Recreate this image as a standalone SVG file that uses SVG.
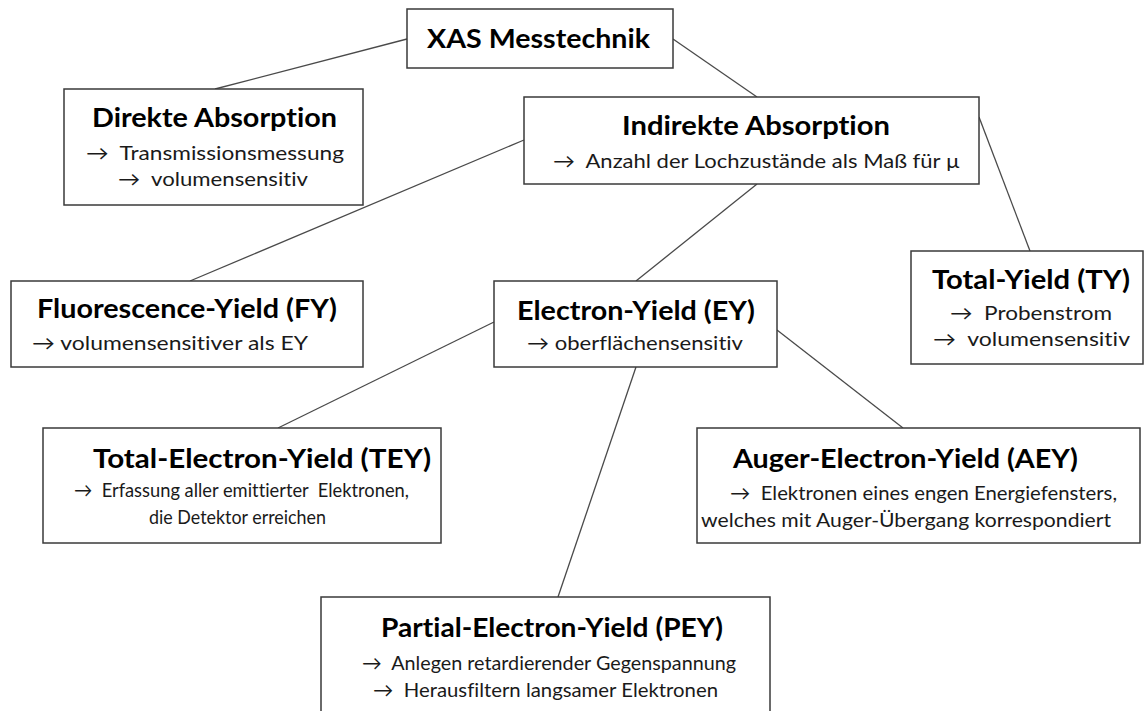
<svg xmlns="http://www.w3.org/2000/svg" width="1145" height="711" viewBox="0 0 1145 711">
<style>
.box{fill:#fff;stroke:#3a3a3a;stroke-width:1.5}
.edge{stroke:#4a4a4a;stroke-width:1.3;fill:none}
.t,.s{font-family:Lato,"Open Sans","Liberation Sans",sans-serif;text-anchor:middle;font-variant-ligatures:none;font-feature-settings:"liga" 0,"clig" 0,"dlig" 0,"calt" 0}
.t{font-weight:bold;font-size:26px;fill:#000}
.s{font-size:20px;fill:#1a1a1a;white-space:pre}
</style>
<rect width="1145" height="711" fill="#fff"/>
<g id="connectors">
<line class="edge" x1="407" y1="39" x2="215" y2="89"/>
<line class="edge" x1="673" y1="39" x2="757" y2="97"/>
<line class="edge" x1="524" y1="140" x2="190" y2="281"/>
<line class="edge" x1="757" y1="184" x2="636" y2="281"/>
<line class="edge" x1="979" y1="117" x2="1030" y2="251"/>
<line class="edge" x1="494" y1="322" x2="278" y2="428"/>
<line class="edge" x1="777" y1="330" x2="903" y2="428"/>
<line class="edge" x1="636" y1="367" x2="558" y2="597"/>
</g>
<g id="xas">
<rect class="box" x="407" y="9" width="266" height="59"/>
<text class="t" x="538.5" y="48" textLength="223" lengthAdjust="spacingAndGlyphs">XAS Messtechnik</text>
</g>
<g id="direkt">
<rect class="box" x="64" y="89" width="299" height="116"/>
<text class="t" x="214.5" y="127" textLength="245" lengthAdjust="spacingAndGlyphs">Direkte Absorption</text>
<text class="s" x="215" y="160" textLength="258" lengthAdjust="spacingAndGlyphs">→  Transmissionsmessung</text>
<text class="s" x="213" y="186" textLength="190" lengthAdjust="spacingAndGlyphs">→  volumensensitiv</text>
</g>
<g id="indirekt">
<rect class="box" x="524" y="97" width="455" height="87"/>
<text class="t" x="756" y="135" textLength="268" lengthAdjust="spacingAndGlyphs">Indirekte Absorption</text>
<text class="s" x="756.5" y="168" textLength="407" lengthAdjust="spacingAndGlyphs">→  Anzahl der Lochzustände als Maß für µ</text>
</g>
<g id="fy">
<rect class="box" x="11" y="281" width="352" height="86"/>
<text class="t" x="187" y="318" textLength="300" lengthAdjust="spacingAndGlyphs">Fluorescence-Yield (FY)</text>
<text class="s" x="170" y="350" textLength="276" lengthAdjust="spacingAndGlyphs">→ volumensensitiver als EY</text>
</g>
<g id="ey">
<rect class="box" x="494" y="281" width="283" height="86"/>
<text class="t" x="636" y="320" textLength="238" lengthAdjust="spacingAndGlyphs">Electron-Yield (EY)</text>
<text class="s" x="635" y="350" textLength="216" lengthAdjust="spacingAndGlyphs">→ oberflächensensitiv</text>
</g>
<g id="ty">
<rect class="box" x="911" y="251" width="232" height="113"/>
<text class="t" x="1031" y="289" textLength="198" lengthAdjust="spacingAndGlyphs">Total-Yield (TY)</text>
<text class="s" x="1031" y="320" textLength="162" lengthAdjust="spacingAndGlyphs">→  Probenstrom</text>
<text class="s" x="1031.5" y="346" textLength="197" lengthAdjust="spacingAndGlyphs">→  volumensensitiv</text>
</g>
<g id="tey">
<rect class="box" x="43" y="428" width="398" height="115"/>
<text class="t" x="262" y="468" textLength="338" lengthAdjust="spacingAndGlyphs">Total-Electron-Yield (TEY)</text>
<text class="s" x="241.5" y="497" textLength="335" lengthAdjust="spacingAndGlyphs">→  Erfassung aller emittierter  Elektronen,</text>
<text class="s" x="237.5" y="524" textLength="177" lengthAdjust="spacingAndGlyphs">die Detektor erreichen</text>
</g>
<g id="aey">
<rect class="box" x="697" y="428" width="443" height="115"/>
<text class="t" x="905.5" y="468" textLength="345" lengthAdjust="spacingAndGlyphs">Auger-Electron-Yield (AEY)</text>
<text class="s" x="923.5" y="500" textLength="387" lengthAdjust="spacingAndGlyphs">→  Elektronen eines engen Energiefensters,</text>
<text class="s" x="906" y="527" textLength="410" lengthAdjust="spacingAndGlyphs">welches mit Auger-Übergang korrespondiert</text>
</g>
<g id="pey">
<rect class="box" x="321" y="597" width="449" height="125"/>
<text class="t" x="552" y="637" textLength="342" lengthAdjust="spacingAndGlyphs">Partial-Electron-Yield (PEY)</text>
<text class="s" x="549" y="670" textLength="374" lengthAdjust="spacingAndGlyphs">→  Anlegen retardierender Gegenspannung</text>
<text class="s" x="545.5" y="697" textLength="345" lengthAdjust="spacingAndGlyphs">→  Herausfiltern langsamer Elektronen</text>
</g>
</svg>
